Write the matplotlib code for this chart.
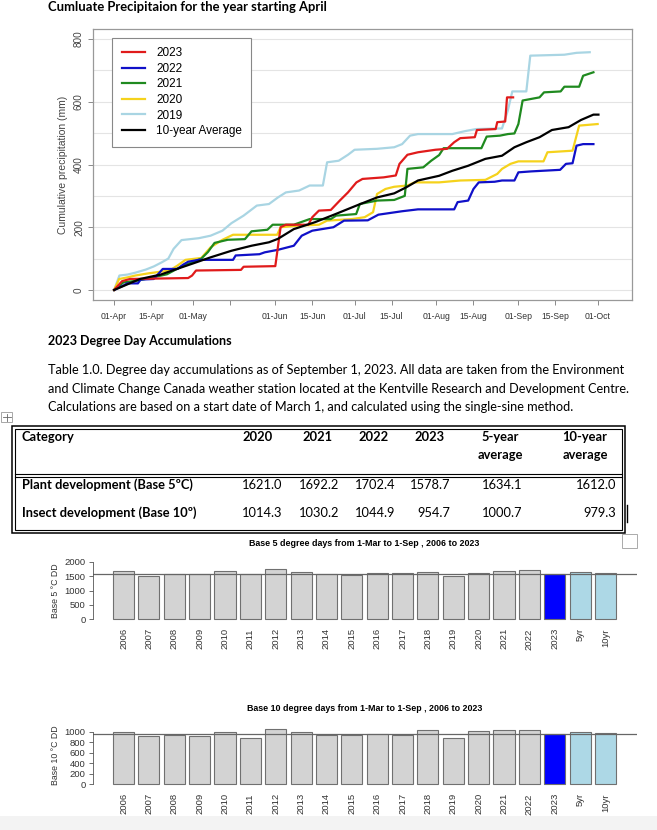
import numpy as np
import matplotlib.pyplot as plt
from matplotlib.patches import Rectangle

# ---- cumulative precipitation (days after 1-Apr, mm) ----
days_2023 = [0, 3, 6, 28, 29.5, 31, 48, 49, 61, 63, 65, 73.5, 75, 77.5, 82, 85.4, 88.5, 91.7, 94, 102,
             106.6, 108, 111, 115, 121.6, 126, 128.7, 131, 136.5, 137.3, 144.4, 145, 148, 148.7, 151]
prec_2023 = [0, 28, 35, 38, 46, 62, 64, 74, 76, 200, 208, 208, 232, 253, 255, 285, 311, 343, 354, 359,
             365, 402, 431, 439, 447, 450, 471, 484, 487, 510, 513, 535, 537, 614, 614]

days_2022 = [0, 3.5, 5, 9, 10, 15, 18.4, 24, 26, 28, 32, 45, 46, 55, 57, 62, 68, 71, 75, 83, 87, 96, 100,
             109, 115, 128.7, 130, 134, 136, 138, 144, 146.8, 151.5, 153, 157.8, 168.8, 171, 173.5, 175,
             177.5, 181.4]
prec_2022 = [0, 14, 21, 21, 33, 35, 67, 67, 80, 90, 96, 96, 110, 114, 120, 128, 141, 173, 189, 200, 221,
             222, 240, 251, 257, 257, 280, 285, 322, 343, 345, 349, 349, 375, 378, 383, 402, 404, 460, 465,
             465]

days_2021 = [0, 3.5, 9, 14.5, 20, 25.5, 28, 33, 35.5, 38, 43, 49.5, 52, 58, 60, 68, 74, 82, 84, 91.6, 93,
             99.5, 106, 110, 111, 117, 120, 123, 124.7, 139, 141, 146, 149, 151.5, 153, 154.6, 157.8, 161,
             162.7, 169, 170.4, 176, 177.5, 181.4]
prec_2021 = [0, 24, 30, 40, 50, 75, 83, 100, 121, 150, 160, 162, 187, 192, 208, 208, 226, 226, 237, 242,
             274, 285, 287, 300, 386, 391, 412, 430, 452, 452, 489, 492, 497, 499, 529, 604, 609, 614, 630,
             633, 648, 648, 683, 694]

days_2020 = [0, 1.9, 5, 8, 13, 21, 24, 27, 33, 36.5, 41, 45, 61.7, 63, 69.6, 77.5, 80.6, 90, 94.8, 98,
             99.5, 102.7, 106, 111, 113.7, 123, 131, 140.5, 145, 146.8, 150, 153, 162.5, 164, 173.5, 176,
             183]
prec_2020 = [0, 35, 40, 46, 53, 62, 78, 96, 102, 136, 160, 176, 176, 200, 205, 208, 221, 226, 232, 248,
             306, 322, 329, 333, 343, 343, 349, 351, 370, 386, 402, 410, 410, 439, 444, 524, 529]

days_2019 = [0, 2, 5, 8, 12, 15, 18, 20.5, 22.5, 25.5, 32, 36.5, 41, 44.4, 49, 54, 58.6, 62, 65, 70, 74,
             79, 80.6, 85, 88.5, 91, 99.5, 106, 109, 112, 115, 128, 132.6, 137, 146.8, 149, 150.7, 156,
             157.5, 170.4, 175, 180]
prec_2019 = [0, 46, 49, 55, 65, 75, 88, 100, 131, 159, 165, 173, 189, 213, 237, 269, 274, 295, 311, 317,
             333, 333, 407, 412, 431, 447, 450, 455, 465, 492, 497, 497, 506, 513, 515, 572, 633, 633, 747,
             750, 756, 758]

days_avg = [0, 9.8, 17.6, 25.5, 30, 36.5, 44.4, 52, 58.6, 62, 68, 76, 83.8, 91.7, 99.5, 106, 110.5, 115,
            123, 128, 134, 140.5, 146.8, 151.5, 156, 161, 165.7, 172, 176.7, 181.4, 183.3]
prec_avg = [0, 35, 49, 72, 85, 104, 125, 141, 152, 163, 194, 216, 242, 269, 295, 308, 327, 349, 364, 380,
            396, 418, 428, 455, 471, 487, 510, 519, 542, 559, 559]

tick_days = [0, 14, 30, 44, 61, 75, 91, 105, 122, 136, 153, 167, 183]
tick_labels = ['01-Apr', '15-Apr', '01-May', '', '01-Jun', '15-Jun', '01-Jul', '15-Jul',
               '01-Aug', '15-Aug', '01-Sep', '15-Sep', '01-Oct']

# ---- degree days table / bar charts ----
table_cols = ['2020', '2021', '2022', '2023', '5-year\naverage', '10-year\naverage']
plant_dd = [1621.0, 1692.2, 1702.4, 1578.7, 1634.1, 1612.0]
insect_dd = [1014.3, 1030.2, 1044.9, 954.7, 1000.7, 979.3]

bar_labels = ['2006', '2007', '2008', '2009', '2010', '2011', '2012', '2013', '2014', '2015',
              '2016', '2017', '2018', '2019', '2020', '2021', '2022', '2023', '5yr', '10yr']
base5 = [1675, 1510, 1575, 1580, 1675, 1570, 1745, 1640, 1570, 1545,
         1605, 1605, 1650, 1510, 1621.0, 1692.2, 1702.4, 1578.7, 1634.1, 1612.0]
base10 = [995, 920, 945, 920, 995, 885, 1065, 995, 950, 950,
          965, 935, 1040, 885, 1014.3, 1030.2, 1044.9, 954.7, 1000.7, 979.3]

W, H = 657, 830
doc_font = 'Lato'
r_font = 'Liberation Sans'

fig = plt.figure(figsize=(W / 100, H / 100), dpi=100)


def frac(x0, y0, x1, y1):
    # pixel box (top-left origin) -> figure fraction rect
    return [x0 / W, 1 - y1 / H, (x1 - x0) / W, (y1 - y0) / H]


# document layer in pixel coordinates
doc = fig.add_axes([0, 0, 1, 1])
doc.set_xlim(0, W)
doc.set_ylim(H, 0)
doc.axis('off')

doc.text(48, 11, 'Cumluate Precipitaion for the year starting April', fontsize=9.4,
         fontweight='bold', family=doc_font, va='baseline')
doc.text(48, 341, '2023 Degree Day Accumulations', fontsize=9.0, fontweight='bold',
         family=doc_font, va='center')
para = ['Table 1.0. Degree day accumulations as of September 1, 2023. All data are taken from the Environment',
        'and Climate Change Canada weather station located at the Kentville Research and Development Centre.',
        'Calculations are based on a start date of March 1, and calculated using the single-sine method.']
for i, line in enumerate(para):
    doc.text(48, 370 + i * 18.5, line, fontsize=9.2, family=doc_font, va='center')

# move handle icon
doc.add_patch(Rectangle((1, 412), 11, 10, fill=False, ec='#999999', lw=0.6))
doc.plot([6.5, 6.5], [413.5, 420.5], color='#666666', lw=0.6)
doc.plot([2.5, 10.5], [417, 417], color='#666666', lw=0.6)

# table borders
doc.add_patch(Rectangle((12, 426), 613, 107, fill=False, ec='black', lw=1.1))
doc.add_patch(Rectangle((15, 429), 607, 101, fill=False, ec='black', lw=0.8))
doc.plot([15, 622], [473.5, 473.5], color='black', lw=0.8)
doc.plot([15, 622], [476.5, 476.5], color='black', lw=0.8)
doc.plot([626.5, 626.5], [505, 522], color='black', lw=1)

doc.text(22, 437, 'Category', fontsize=9.3, fontweight='bold', family=doc_font, va='center')
head_x = [258, 317, 374, 430, 500, 585]
for hx, col in zip(head_x, table_cols):
    for k, part in enumerate(col.split('\n')):
        doc.text(hx, 437 + k * 18, part, fontsize=9.3, fontweight='bold', family=doc_font,
                 va='center', ha='center')

num_right = [282, 339, 395, 450, 522, 616]
doc.text(22, 485, 'Plant development (Base 5ºC)', fontsize=9.3, fontweight='bold',
         family=doc_font, va='center')
doc.text(22, 513, 'Insect development (Base 10º)', fontsize=9.3, fontweight='bold',
         family=doc_font, va='center')
for nx, a, b in zip(num_right, plant_dd, insect_dd):
    doc.text(nx, 485, f'{a:.1f}', fontsize=9.3, family=doc_font, va='center', ha='right')
    doc.text(nx, 513, f'{b:.1f}', fontsize=9.3, family=doc_font, va='center', ha='right')

doc.add_patch(Rectangle((622, 534), 15, 14, fill=False, ec='#aaaaaa', lw=0.7))
doc.add_patch(Rectangle((0, 816), W, 14, fc='#f3f3f3', ec='none'))

# ---- precipitation line chart ----
ax = fig.add_axes(frac(93, 29, 632, 300))
ax.set_facecolor('none')
for v in range(0, 801, 100):
    ax.axhline(v, color='#e4e4e4', lw=0.8, zorder=0)

series = [
    ('2023', days_2023, prec_2023, '#e01b1b'),
    ('2022', days_2022, prec_2022, '#1010c8'),
    ('2021', days_2021, prec_2021, '#1f8a1f'),
    ('2020', days_2020, prec_2020, '#f5d21c'),
    ('2019', days_2019, prec_2019, '#a9d5e3'),
]
for name, d, p, c in series[::-1]:
    ax.plot(d, p, color=c, lw=1.6, label=name)
ax.plot(days_avg, prec_avg, color='black', lw=1.6, label='10-year Average')

ax.set_xlim(-8, 196)
ax.set_ylim(-32, 832)
ax.set_yticks([0, 200, 400, 600, 800])
ax.set_yticklabels(['0', '200', '400', '600', '800'], rotation=90, va='center',
                   fontsize=7.2, family=r_font, color='#444444')
ax.set_xticks(tick_days)
ax.set_xticklabels(tick_labels, fontsize=6.2, family=r_font, color='#333333')
ax.tick_params(axis='both', length=3.5, color='#777777', width=0.6)
ax.tick_params(axis='x', pad=5)
ax.tick_params(axis='y', pad=3)
for s in ax.spines.values():
    s.set_color('#999999')
    s.set_linewidth(0.9)
ax.set_ylabel('Cumulative precipitation (mm)', fontsize=7.5, family=r_font, color='#444444', labelpad=4)

handles, labels = ax.get_legend_handles_labels()
order = ['2023', '2022', '2021', '2020', '2019', '10-year Average']
hmap = dict(zip(labels, handles))
leg = ax.legend([hmap[k] for k in order], order, loc='upper left', bbox_to_anchor=(0.036, 0.967),
                borderaxespad=0, fancybox=False, edgecolor='#888888', framealpha=1,
                prop={'family': r_font, 'size': 8.5}, labelspacing=0.3, handlelength=2.0,
                handletextpad=0.9, borderpad=0.8)
leg.get_frame().set_linewidth(0.8)

# ---- degree day bar charts ----
centers = np.arange(len(bar_labels)) * 1.2 + 0.7
bar_colors = ['#d3d3d3'] * 17 + ['#0000ff', '#add8e6', '#add8e6']


def dd_bars(box, values, line_val, ylim, yticks, ylabel, title):
    bx = fig.add_axes(frac(*box))
    bx.set_facecolor('none')
    bx.bar(centers, values, width=1.0, color=bar_colors, edgecolor='#707070', linewidth=0.8)
    bx.axhline(line_val, color='#666666', lw=0.9)
    bx.set_xlim(-0.77, 24.97)
    bx.set_ylim(*ylim)
    for s in ['top', 'right', 'bottom']:
        bx.spines[s].set_visible(False)
    bx.spines['left'].set_bounds(yticks[0], yticks[-1])
    bx.spines['left'].set_color('#555555')
    bx.spines['left'].set_linewidth(0.6)
    bx.set_yticks(yticks)
    bx.set_yticklabels([str(t) for t in yticks], fontsize=6.8, family=r_font, color='#333333')
    bx.tick_params(axis='y', length=3, width=0.6, color='#555555', pad=2)
    bx.set_xticks(centers)
    bx.set_xticklabels(bar_labels, rotation=90, fontsize=6.8, family=r_font, color='#333333')
    bx.tick_params(axis='x', length=0, pad=5)
    bx.set_ylabel(ylabel, fontsize=6.3, family=r_font, color='#333333', labelpad=3)
    bx.set_title(title, fontsize=6.4, fontweight='bold', family=r_font, pad=10)
    return bx


dd_bars((92.5, 559.7, 636.5, 621.3), base5, plant_dd[3], (-80, 2080), [0, 500, 1000, 1500, 2000],
        'Base 5 °C DD', 'Base 5 degree days from 1-Mar to 1-Sep , 2006 to 2023')
dd_bars((92.5, 725, 636.5, 786.3), base10, insect_dd[3], (-44, 1134), [0, 200, 400, 600, 800, 1000],
        'Base 10 °C DD', 'Base 10 degree days from 1-Mar to 1-Sep , 2006 to 2023')

fig.savefig('out.png', dpi=100)
